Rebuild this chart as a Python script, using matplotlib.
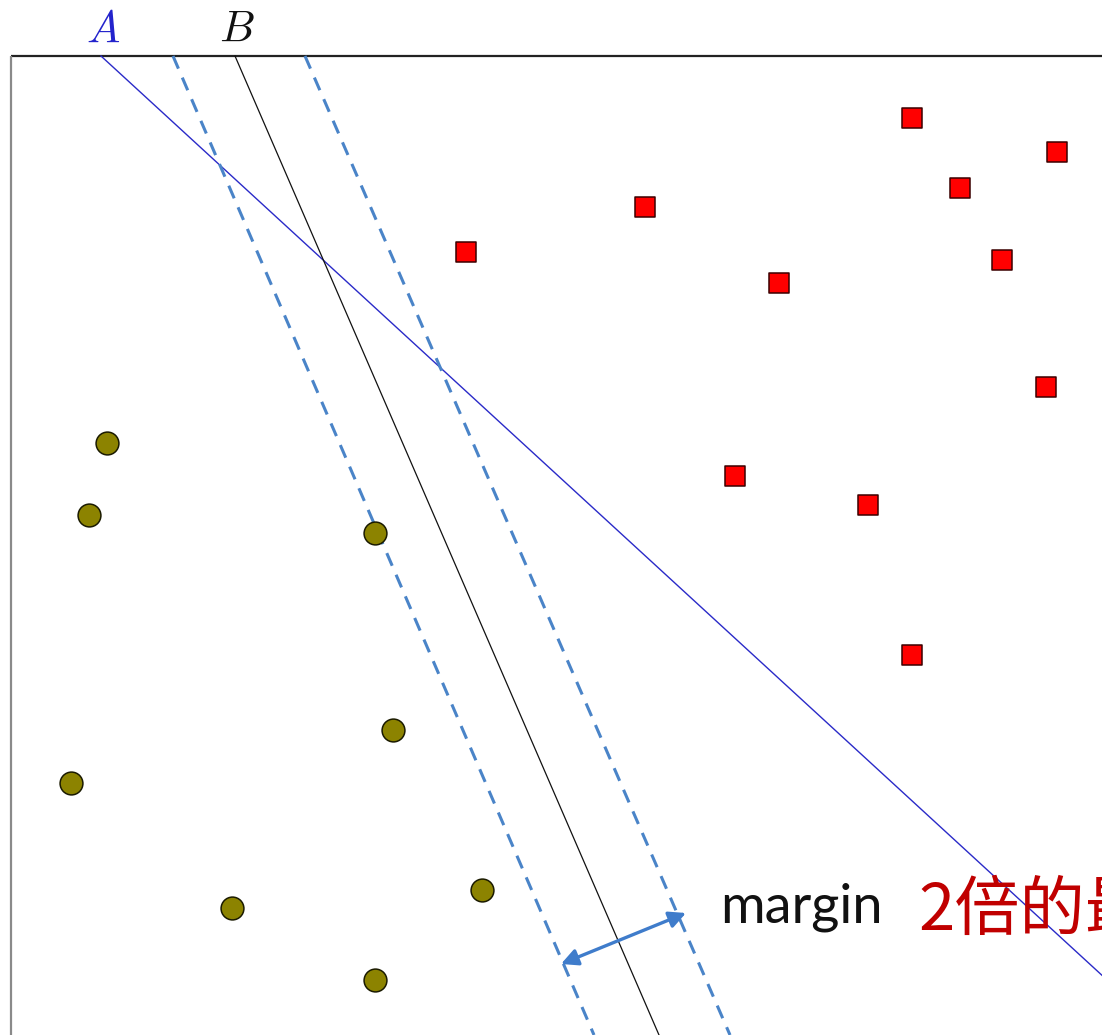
import matplotlib
matplotlib.use("Agg")
import matplotlib.pyplot as plt

# ---- data (pixel-space coordinates) ----
red_x = [912, 1057, 960, 645, 466, 1002, 779, 1046, 735, 868, 912]
red_y = [118, 152, 188, 207, 252, 260, 283, 387, 476, 505, 655]

olive_x = [107, 89, 375, 393, 71, 482, 232, 375]
olive_y = [443, 515, 533, 730, 783, 890, 908, 980]

line_A_x = [101, 1167]
line_A_y = [56, 1035]
line_B_x = [235, 659]
line_B_y = [56, 1035]
dash_left_x = [173, 594]
dash_left_y = [56, 1035]
dash_right_x = [305, 730]
dash_right_y = [56, 1035]

arrow_start = (561, 964)
arrow_end = (686, 913)

label_A = "A"
label_B = "B"
margin_text = "margin"
red_text = "2倍的最"

# ---- figure ----
W, H = 1102, 1035
fig = plt.figure(figsize=(W / 100, H / 100), dpi=100)
ax = fig.add_axes([0, 0, 1, 1])
ax.set_xlim(0, W)
ax.set_ylim(H, 0)
ax.axis("off")

# frame (top and left edges only visible)
ax.plot([11, W], [56, 56], color="#222222", lw=1.6, solid_capstyle="butt", zorder=2)
ax.plot([11, 11], [56, H], color="#8a8a8a", lw=1.6, solid_capstyle="butt", zorder=2)

# lines
ax.plot(line_A_x, line_A_y, color="#2a2ac8", lw=1.0, zorder=3)
ax.plot(line_B_x, line_B_y, color="#111111", lw=0.9, zorder=3)
ax.plot(dash_left_x, dash_left_y, color="#4a84c8", lw=2.2, dashes=(4.5, 3.2), zorder=3)
ax.plot(dash_right_x, dash_right_y, color="#4a84c8", lw=2.2, dashes=(4.5, 3.2), zorder=3)

# margin arrow
ax.annotate("", xy=arrow_start, xytext=arrow_end,
            arrowprops=dict(arrowstyle="<|-|>", color="#3f7ccb", lw=2.4,
                            mutation_scale=25, shrinkA=0, shrinkB=0), zorder=4)

# points
ax.scatter(red_x, red_y, marker="s", s=190, color="#ff0000",
           edgecolors="#3a0000", linewidths=1.1, zorder=5)
ax.scatter(olive_x, olive_y, marker="o", s=270, color="#8c8300",
           edgecolors="#1a1a00", linewidths=1.1, zorder=5)

# labels
plt.rcParams["mathtext.fontset"] = "cm"
ax.text(103, 29, r"$" + label_A + "$", color="#2323cc", fontsize=32,
        ha="center", va="center")
ax.text(237, 29, r"$" + label_B + "$", color="#111111", fontsize=32,
        ha="center", va="center")

ax.text(720, 923, margin_text, family=["Lato", "DejaVu Sans"], fontsize=39,
        color="#111111", ha="left", va="baseline")
ax.text(918, 930, red_text, family=["Noto Sans CJK SC", "DejaVu Sans"],
        fontsize=47, color="#c00000", ha="left", va="baseline")

fig.savefig("out.png", dpi=100)
